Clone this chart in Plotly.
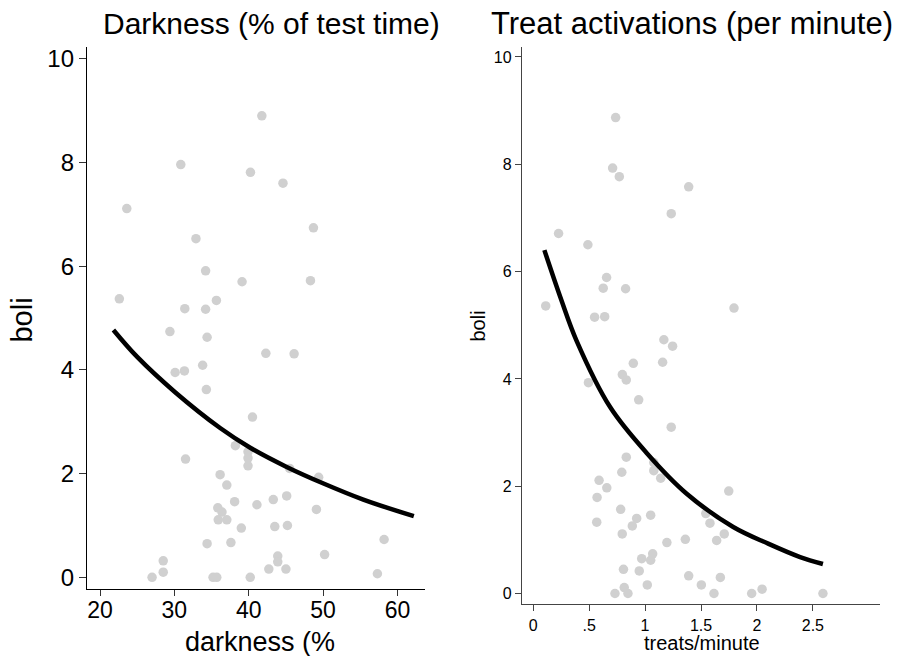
import plotly.graph_objects as go

# ---- Left panel: darkness (%) vs boli ----
dark_x = [41.76, 30.86, 40.23, 44.6, 23.6, 32.9, 48.7, 34.2, 39.1, 48.3, 22.6, 31.4, 34.2, 35.65,
          29.4, 34.4, 42.3, 46.1, 30.1, 31.35, 33.8, 34.3, 40.5, 38.2, 39.9, 39.9, 39.9, 31.5,
          45.5, 49.4, 36.15, 37.05, 38.1, 41.1, 43.3, 45.1, 49.1, 35.84, 36.4, 35.9, 37.05,
          39.0, 43.5, 45.2, 34.4, 37.6, 58.2, 50.2, 43.9, 43.9, 28.5, 28.5, 27.0, 42.7, 45.0,
          57.3, 35.2, 35.7, 40.2]
dark_y = [8.9, 7.96, 7.81, 7.6, 7.11, 6.53, 6.74, 5.91, 5.70, 5.72, 5.37, 5.18, 5.17, 5.34,
          4.74, 4.63, 4.32, 4.31, 3.95, 3.98, 4.09, 3.62, 3.09, 2.54, 2.42, 2.30, 2.15, 2.28,
          2.1, 1.93, 1.98, 1.78, 1.46, 1.40, 1.50, 1.57, 1.31, 1.34, 1.26, 1.11, 1.11,
          0.95, 0.98, 1.0, 0.65, 0.67, 0.73, 0.44, 0.41, 0.30, 0.32, 0.10, 0.0, 0.16, 0.16,
          0.07, 0.0, 0.0, 0.0]
dark_fit_x = [21.8, 25.0, 30.1, 36.15, 40.2, 45.1, 50.05, 55.4, 62.2]
dark_fit_y = [4.77, 4.25, 3.57, 2.88, 2.50, 2.13, 1.81, 1.50, 1.18]

# ---- Right panel: treats/minute vs boli ----
treat_x = [0.737, 0.71, 0.77, 1.39, 1.234, 0.227, 0.489, 0.656, 0.626, 0.826, 0.112, 1.795,
           0.549, 0.639, 1.168, 1.246, 0.895, 1.157, 0.797, 0.832, 0.494, 0.943, 1.234, 0.832,
           1.078, 1.078, 0.792, 1.14, 0.589, 0.658, 0.571, 1.748, 0.782, 1.543, 1.05, 0.925,
           0.568, 1.58, 0.886, 0.796, 1.708, 1.36, 1.64, 1.195, 1.068, 0.97, 1.05, 0.807,
           0.948, 1.39, 1.673, 1.02, 1.503, 0.814, 2.046, 0.731, 0.847, 1.616, 1.953, 2.59]
treat_y = [8.87, 7.93, 7.77, 7.58, 7.08, 6.71, 6.50, 5.89, 5.69, 5.68, 5.36, 5.32,
           5.15, 5.16, 4.73, 4.61, 4.29, 4.31, 4.08, 3.98, 3.93, 3.61, 3.10, 2.54,
           2.44, 2.29, 2.26, 2.15, 2.11, 1.97, 1.79, 1.91, 1.57, 1.49, 1.46, 1.40,
           1.33, 1.31, 1.26, 1.11, 1.11, 1.01, 0.99, 0.95, 0.74, 0.65, 0.62, 0.45,
           0.42, 0.33, 0.30, 0.16, 0.16, 0.11, 0.08, 0.0, 0.0, 0.0, 0.0, 0.0]
treat_fit_x = [0.10, 0.25, 0.388, 0.689, 1.014, 1.372, 1.788, 2.10, 2.386, 2.59]
treat_fit_y = [6.40, 5.48, 4.71, 3.47, 2.62, 1.86, 1.24, 0.93, 0.68, 0.55]

left_xticks = [20, 30, 40, 50, 60]
y_ticks = [0, 2, 4, 6, 8, 10]
right_xtickvals = [0, 0.5, 1, 1.5, 2, 2.5]
right_xticktext = ["0", ".5", "1", "1.5", "2", "2.5"]

FONT = "Liberation Sans, Arial, sans-serif"
DOT = "#d0d0d0"

fig = go.Figure()
fig.add_trace(go.Scatter(x=dark_x, y=dark_y, mode="markers",
                         marker=dict(size=9.5, color=DOT), xaxis="x", yaxis="y",
                         showlegend=False, hoverinfo="skip"))
fig.add_trace(go.Scatter(x=dark_fit_x, y=dark_fit_y, mode="lines", line_shape="spline",
                         line=dict(color="black", width=4.5), xaxis="x", yaxis="y",
                         showlegend=False))
fig.add_trace(go.Scatter(x=treat_x, y=treat_y, mode="markers",
                         marker=dict(size=9.5, color=DOT), xaxis="x2", yaxis="y2",
                         showlegend=False, hoverinfo="skip"))
fig.add_trace(go.Scatter(x=treat_fit_x, y=treat_fit_y, mode="lines", line_shape="spline",
                         line=dict(color="black", width=4.5), xaxis="x2", yaxis="y2",
                         showlegend=False))

W, H = 907, 656
def px_x(p): return p / W
def px_y(p): return 1 - p / H

axis_common = dict(showgrid=False, zeroline=False, showline=True, ticks="outside",
                   mirror=False)

fig.update_layout(
    width=W, height=H, margin=dict(l=0, r=0, t=0, b=0),
    paper_bgcolor="white", plot_bgcolor="white",
    font=dict(family=FONT, color="black"),
    xaxis=dict(domain=[px_x(87), px_x(425)], range=[18.25, 63.7], tickvals=left_xticks,
               linecolor="black", linewidth=1.3, ticklen=6, tickwidth=1.3, tickcolor="#333",
               tickfont=dict(size=23), ticklabelstandoff=-6, anchor="y", **axis_common),
    yaxis=dict(domain=[px_y(590), px_y(45)], range=[-0.23, 10.23], tickvals=y_ticks,
               linecolor="black", linewidth=1.3, ticklen=7, tickwidth=1.3, tickcolor="#333",
               tickfont=dict(size=24), anchor="x", **axis_common),
    xaxis2=dict(domain=[px_x(522), px_x(880)], range=[-0.1, 3.1], tickvals=right_xtickvals,
                ticktext=right_xticktext, linecolor="#444", linewidth=1.3, ticklen=6,
                tickwidth=1.2, tickcolor="#444", tickfont=dict(size=16), anchor="y2",
                **axis_common),
    yaxis2=dict(domain=[px_y(605), px_y(45)], range=[-0.2, 10.19], tickvals=y_ticks,
                linecolor="#444", linewidth=1.3, ticklen=6, tickwidth=1.2, tickcolor="#444",
                tickfont=dict(size=16), anchor="x2", **axis_common),
    annotations=[
        dict(text="Darkness (% of test time)", x=px_x(271), y=px_y(22), xref="paper",
             yref="paper", showarrow=False, font=dict(size=30), xanchor="center",
             yanchor="middle"),
        dict(text="Treat activations (per minute)", x=px_x(692), y=px_y(22), xref="paper",
             yref="paper", showarrow=False, font=dict(size=31), xanchor="center",
             yanchor="middle"),
        dict(text="darkness (%", x=px_x(260), y=px_y(643), xref="paper", yref="paper",
             showarrow=False, font=dict(size=27), xanchor="center", yanchor="middle",
             borderpad=0),
        dict(text="treats/minute", x=px_x(702), y=px_y(644), xref="paper", yref="paper",
             showarrow=False, font=dict(size=20), xanchor="center", yanchor="middle"),
        dict(text="boli", x=px_x(22), y=px_y(320), xref="paper", yref="paper",
             showarrow=False, font=dict(size=29), textangle=-90, xanchor="center",
             yanchor="middle"),
        dict(text="boli", x=px_x(478), y=px_y(325), xref="paper", yref="paper",
             showarrow=False, font=dict(size=20), textangle=-90, xanchor="center",
             yanchor="middle"),
    ],
)

fig.write_html("out.html", config={"displayModeBar": False},
               post_script="document.body.style.margin='0';document.body.style.overflow='hidden';")
